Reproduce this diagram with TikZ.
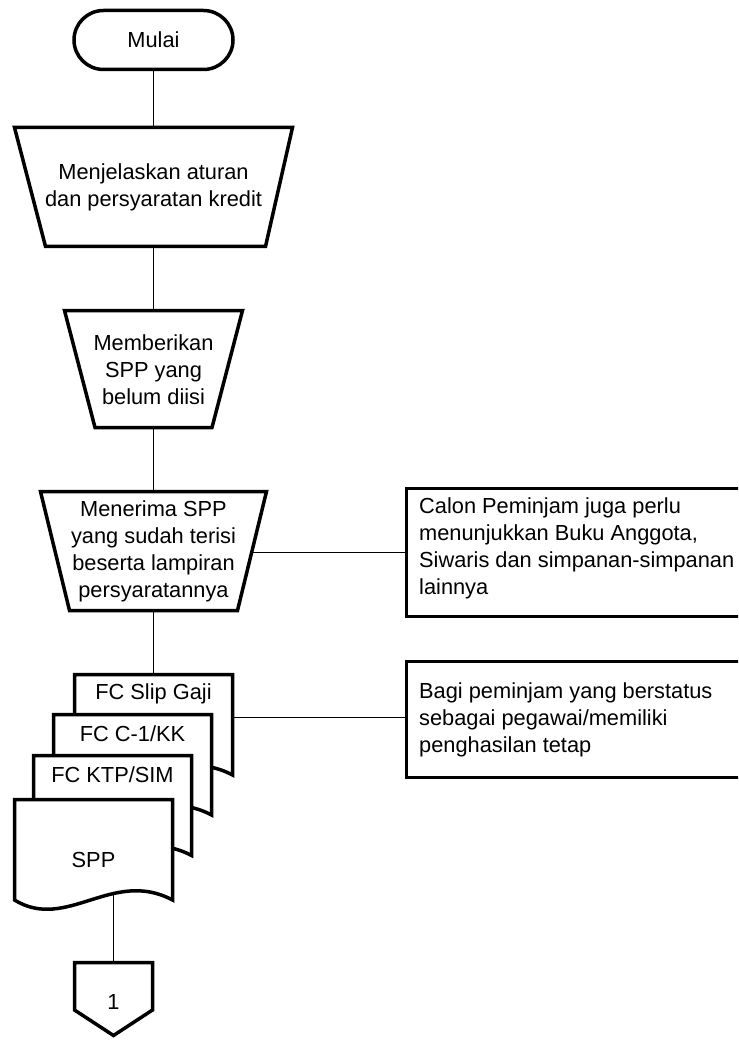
\documentclass[tikz,border=0pt]{standalone}
\usepackage{fontspec}
\setmainfont{Liberation Sans}
\usetikzlibrary{shapes.misc}

\begin{document}
\begin{tikzpicture}[x=1pt,y=-1pt,
  outline/.style={line width=3.5pt, draw=black, fill=white},
  link/.style={line width=1pt, draw=black},
  txt/.style={font=\fontsize{21.8}{27}\selectfont, align=center, inner sep=0pt},
  notetxt/.style={font=\fontsize{21.8}{27}\selectfont, align=left, anchor=west, inner sep=0pt},
  notebox/.style={outline, rectangle, anchor=north west, inner sep=0pt, minimum width=340pt},
]
\useasboundingbox (0,0) rectangle (738,1040);
\clip (0,0) rectangle (738,1040);

% connection points on the drawn shapes
\coordinate (t1n) at (153.5,127.5);
\coordinate (t1s) at (153.5,246.5);
\coordinate (t2n) at (153.5,310.5);
\coordinate (t2s) at (153.5,427.5);
\coordinate (t3n) at (153.5,491.5);
\coordinate (t3s) at (153.5,610.5);
\coordinate (t3e) at (251.8,552);
\coordinate (d1n) at (153.5,674.5);
\coordinate (d1e) at (232.5,717);
\coordinate (sppb) at (113.6,893.5);
\coordinate (offn) at (113.6,962.5);

% note boxes (their right sides run off the page)
\node[notebox, minimum height=128pt] (note1) at (404.5,486.5) {};
\node[notebox, minimum height=116pt] (note2) at (404.5,659.5) {};

% start terminator
\node[outline, rounded rectangle, minimum width=159pt, minimum height=59pt,
      inner sep=0pt, font=\fontsize{21.8}{27}\selectfont] (mulai) at (153.5,40) {Mulai};

% connectors
\draw[link] (mulai.south) -- (t1n);
\draw[link] (t1s) -- (t2n);
\draw[link] (t2s) -- (t3n);
\draw[link] (t3s) -- (d1n);
\draw[link] (t3e) -- (t3e -| note1.west);
\draw[link] (d1e) -- (d1e -| note2.west);
\draw[link] (sppb) -- (offn);

% manual operations
\draw[outline] (14.5,127.5) -- (292.5,127.5) -- (265.5,246.5) -- (45.5,246.5) -- cycle;
\draw[outline] (64.5,310.5) -- (242.5,310.5) -- (212,427.5) -- (95,427.5) -- cycle;
\draw[outline] (40.5,491.5) -- (266.5,491.5) -- (237.5,610.5) -- (69.5,610.5) -- cycle;

% stacked documents, back to front
\draw[outline] (74.5,674.5) -- (232.5,674.5) -- (232.5,775)
  .. controls (172.5,743) and (126.6,807) .. (74.5,775) -- cycle;
\draw[outline] (53.5,714.5) -- (211.5,714.5) -- (211.5,815)
  .. controls (151.5,783) and (105.6,847) .. (53.5,815) -- cycle;
\draw[outline] (33.5,755.5) -- (191.5,755.5) -- (191.5,855.5)
  .. controls (131.5,823.5) and (85.6,887.5) .. (33.5,855.5) -- cycle;
\draw[outline] (14.5,799.5) -- (172.5,799.5) -- (172.5,900)
  .. controls (112.5,868) and (66.6,932) .. (14.5,900) -- cycle;

% off-page connector
\draw[outline] (74.5,962.5) -- (152.5,962.5) -- (152.5,1010) -- (113.5,1035.5) -- (74.5,1010) -- cycle;

% texts
\node[txt] (t1) at (153.5,187) {Menjelaskan aturan\\dan persyaratan kredit};
\node[txt] (t2) at (153.5,369.5) {Memberikan\\SPP yang\\belum diisi};
\node[txt] (t3) at (153.5,551) {Menerima SPP\\yang sudah terisi\\beserta lampiran\\persyaratannya};
\node[txt] (d1) at (153.5,694) {FC Slip Gaji};
\node[txt] (d2) at (132.5,734) {FC C-1/KK};
\node[txt] (d3) at (112.5,775) {FC KTP/SIM};
\node[txt] (d4) at (93.5,860) {SPP};
\node[txt] (off) at (113.5,1002) {1};
\node[notetxt] (n1) at (419,548) {Calon Peminjam juga perlu\\menunjukkan Buku Anggota,\\Siwaris dan simpanan-simpanan\\lainnya};
\node[notetxt] (n2) at (419,720) {Bagi peminjam yang berstatus\\sebagai pegawai/memiliki\\penghasilan tetap};
\end{tikzpicture}
\end{document}
